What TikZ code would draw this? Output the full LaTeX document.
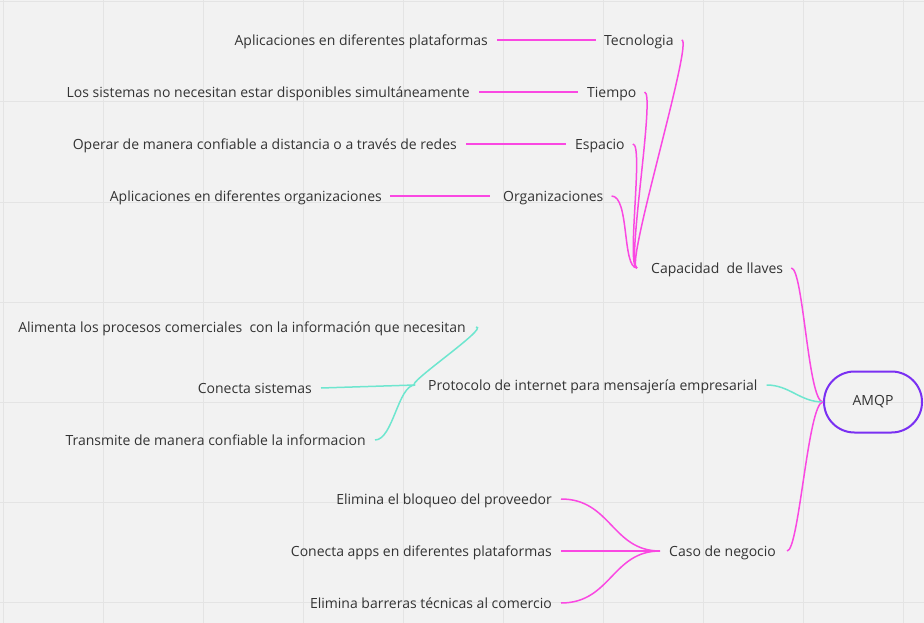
\documentclass[tikz,border=0pt]{standalone}
\usepackage{fontspec}
\setmainfont{Open Sans}
\definecolor{bg}{HTML}{F2F2F2}
\definecolor{gridc}{HTML}{E4E4E4}
\definecolor{txt}{HTML}{333333}
\definecolor{pk}{HTML}{FA48E2}
\definecolor{tl}{HTML}{6EE6CF}
\definecolor{pu}{HTML}{7A30F2}
\tikzset{
  lbl/.style={font=\fontsize{14}{16}\selectfont, text=txt, inner xsep=0pt, inner ysep=0pt, text height=11.5pt, text depth=0pt},
  pkline/.style={draw=pk, line width=1.5pt},
  tlline/.style={draw=tl, line width=1.5pt},
  root/.style={draw=pu, line width=2pt, rounded corners=30.5pt, minimum width=98pt, minimum height=61pt, font=\fontsize{14}{16}\selectfont, text=txt}
}
\begin{document}
\begin{tikzpicture}[x=1pt,y=-1pt]
\fill[bg] (0,0) rectangle (924,623);
\useasboundingbox (0,0) rectangle (924,623);
\foreach \i in {3,103,...,903} \draw[gridc, line width=1pt] (\i,0) -- (\i,623);
\foreach \j in {2,102,...,602} \draw[gridc, line width=1pt] (0,\j) -- (924,\j);

% root
\node[root] (amqp) at (873,402) {AMQP};

% level 1
\node[lbl, anchor=west] (cap) at (651,268) {Capacidad~~de llaves};
\node[lbl, anchor=west] (proto) at (428,385) {Protocolo de internet para mensajería empresarial};
\node[lbl, anchor=west] (caso) at (669,551) {Caso de negocio};

% level 2 (capacidad)
\node[lbl, anchor=west] (tec) at (604,40) {Tecnologia};
\node[lbl, anchor=west] (tie) at (587,92) {Tiempo};
\node[lbl, anchor=west] (esp) at (575,144) {Espacio};
\node[lbl, anchor=west] (org) at (503,196) {Organizaciones};

% level 3
\node[lbl, anchor=east] (tecd) at (488,40) {Aplicaciones en diferentes plataformas};
\node[lbl, anchor=east] (tied) at (470,92) {Los sistemas no necesitan estar disponibles simultáneamente};
\node[lbl, anchor=east] (espd) at (457,144) {Operar de manera confiable a distancia o a través de redes};
\node[lbl, anchor=east] (orgd) at (382,196) {Aplicaciones en diferentes organizaciones};

% protocolo children
\node[lbl, anchor=east] (ali) at (466,327) {Alimenta los procesos comerciales~~con la información que necesitan};
\node[lbl, anchor=east] (con) at (312,388) {Conecta sistemas};
\node[lbl, anchor=east] (tra) at (366,440) {Transmite de manera confiable la informacion};

% caso children
\node[lbl, anchor=east] (eli) at (552,499) {Elimina el bloqueo del proveedor};
\node[lbl, anchor=east] (cap2) at (552,551) {Conecta apps en diferentes plataformas};
\node[lbl, anchor=east] (bar) at (552,603) {Elimina barreras técnicas al comercio};

% connectors to root
\draw[pkline] ([xshift=8pt]cap.east) .. controls +(12,0) and (808,402) .. (amqp.west);
\draw[tlline] ([xshift=9pt]proto.east) .. controls +(23,0) and (800,402) .. (amqp.west);
\draw[pkline] ([xshift=11pt]caso.east) .. controls +(12,0) and (808,402) .. (amqp.west);

% connectors level 2 -> capacidad
\coordinate (capj) at ([xshift=-14pt]cap.west);
\draw[pkline] ([xshift=8pt]tec.east) .. controls +(12,0) and (624,268) .. (capj);
\draw[pkline] ([xshift=8pt]tie.east) .. controls +(11,0) and (626,268) .. (capj);
\draw[pkline] ([xshift=8pt]esp.east) .. controls +(11,0) and (626,268) .. (capj);
\draw[pkline] ([xshift=8pt]org.east) .. controls +(18,0) and (622,268) .. (capj);

% level 3 lines
\draw[pkline] ([xshift=9pt]tecd.east) -- ([xshift=-8pt]tec.west);
\draw[pkline] ([xshift=9pt]tied.east) -- ([xshift=-9pt]tie.west);
\draw[pkline] ([xshift=9pt]espd.east) -- ([xshift=-9pt]esp.west);
\draw[pkline] ([xshift=8pt]orgd.east) -- ([xshift=-13pt]org.west);

% protocolo children
\coordinate (protoj) at ([xshift=-13pt]proto.west);
\draw[tlline] ([xshift=10pt]ali.east) .. controls +(14,0) and (404,385) .. (protoj);
\draw[tlline] ([xshift=9pt]con.east) -- (protoj);
\draw[tlline] ([xshift=9pt]tra.east) .. controls +(18,0) and (398,385) .. (protoj);

% caso children
\coordinate (casoj) at ([xshift=-9pt]caso.west);
\draw[pkline] ([xshift=9pt]eli.east) .. controls +(50,0) and (612,551) .. (casoj);
\draw[pkline] ([xshift=9pt]cap2.east) -- (casoj);
\draw[pkline] ([xshift=9pt]bar.east) .. controls +(50,0) and (612,551) .. (casoj);
\end{tikzpicture}
\end{document}
